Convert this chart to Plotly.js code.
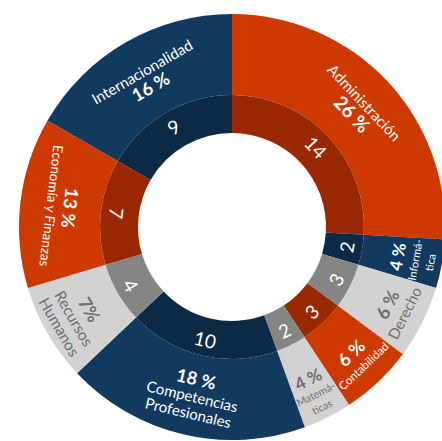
<!DOCTYPE html>
<html>
<head>
<meta charset="utf-8">
<script src="https://cdn.plot.ly/plotly-3.0.1.min.js"></script>
<style>
html,body{margin:0;padding:0;overflow:hidden;background:#fff;}
#chart{width:464px;height:454px;}
</style>
</head>
<body>
<div id="chart"></div>
<script>
// ---------- Data ----------
const categories = ["Administración", "Informática", "Derecho", "Contabilidad", "Matemáticas",
  "Competencias Profesionales", "Recursos Humanos", "Economía y Finanzas", "Internacionalidad"];
const counts = [14, 2, 3, 3, 2, 10, 4, 7, 9];
const percentLabels = ["26 %", "4 %", "6 %", "6 %", "4 %", "18 %", "7%", "13 %", "16 %"];
const displayNames = ["Administración", "Informá-<br>tica", "Derecho", "Contabilidad", "Matemá-<br>ticas",
  "Competencias<br>Profesionales", "Recursos<br>Humanos", "Economía y Finanzas", "Internacionalidad"];

// ---------- Styles ----------
const nameSizes  = [15, 11, 15, 11.5, 10.5, 15, 15.5, 13.5, 15];
const pctSizes   = [19, 17, 18, 18, 17, 18, 18, 18, 18];
const lineSizes  = [14, 12, 14, 12, 11, 13, 13, 13, 14];
const labelRadii = [172, 182, 182, 180, 183, 172, 181, 171, 170];
const outerColors = ["#CE3900", "#113A5E", "#D2D2D2", "#CE3900", "#D2D2D2", "#113A5E", "#D2D2D2", "#CE3900", "#113A5E"];
const innerColors = ["#992800", "#0C2A45", "#858585", "#992800", "#858585", "#0C2A45", "#858585", "#992800", "#0C2A45"];
const outerTextColors = ["#fff", "#fff", "#6e6e6e", "#fff", "#6e6e6e", "#fff", "#6e6e6e", "#fff", "#fff"];

const FONT = "Lato, 'Open Sans', sans-serif";
const W = 464, H = 454, R_OUT = 213;        // outer radius in px (plot area is 2*R_OUT square)
const R_MID = 132, R_HOLE = 94;
const innerFrac = R_MID / R_OUT;

const outer = {
  type: 'pie', values: counts, labels: categories, textinfo: 'none',
  sort: false, direction: 'clockwise', rotation: 0, hole: innerFrac,
  marker: {colors: outerColors, line: {width: 0}},
  domain: {x: [0, 1], y: [0, 1]}, hoverinfo: 'label+value', showlegend: false
};
const inner = {
  type: 'pie', values: counts, labels: categories, textinfo: 'none',
  sort: false, direction: 'clockwise', rotation: 0, hole: R_HOLE / R_MID,
  marker: {colors: innerColors, line: {width: 0}},
  domain: {x: [0.5 - innerFrac / 2, 0.5 + innerFrac / 2], y: [0.5 - innerFrac / 2, 0.5 + innerFrac / 2]},
  hoverinfo: 'label+value', showlegend: false
};

// ---------- Labels placed along the slices (angles derived from counts) ----------
const total = counts.reduce((a, b) => a + b, 0);
const annotations = [];
let cum = 0;
counts.forEach((v, i) => {
  const theta = (cum + v / 2) / total * 360;   // degrees clockwise from 12 o'clock
  cum += v;
  const flip = theta > 90 && theta < 300;      // glyph tops point to the centre
  const rot = flip ? theta - 180 : (theta > 180 ? theta - 360 : theta);
  const t = theta * Math.PI / 180;
  const pos = r => ({x: 0.5 + r * Math.sin(t) / (2 * R_OUT), y: 0.5 + r * Math.cos(t) / (2 * R_OUT)});

  const nm = '<span style="font-size:' + nameSizes[i] + 'px">' + displayNames[i] + '</span>';
  const pc = '<b style="font-size:' + pctSizes[i] + 'px">' + percentLabels[i] + '</b>';
  const txt = flip ? pc + '<br>' + nm : nm + '<br>' + pc;
  const po = pos(labelRadii[i]);
  annotations.push({
    xref: 'paper', yref: 'paper', x: po.x, y: po.y, xanchor: 'center', yanchor: 'middle',
    text: txt, showarrow: false, textangle: rot, align: 'center',
    font: {family: FONT, size: lineSizes[i], color: outerTextColors[i]}
  });
  const pi = pos(116);
  annotations.push({
    xref: 'paper', yref: 'paper', x: pi.x, y: pi.y, xanchor: 'center', yanchor: 'middle',
    text: String(v), showarrow: false, textangle: rot,
    font: {family: FONT, size: 19, color: '#fff'}
  });
});

Plotly.newPlot('chart', [outer, inner], {
  width: W, height: H,
  margin: {l: 19, r: W - 19 - 2 * R_OUT, t: 14, b: H - 14 - 2 * R_OUT},
  paper_bgcolor: '#fff', plot_bgcolor: '#fff',
  showlegend: false, annotations: annotations
}, {displayModeBar: false, staticPlot: true});
</script>
</body>
</html>
